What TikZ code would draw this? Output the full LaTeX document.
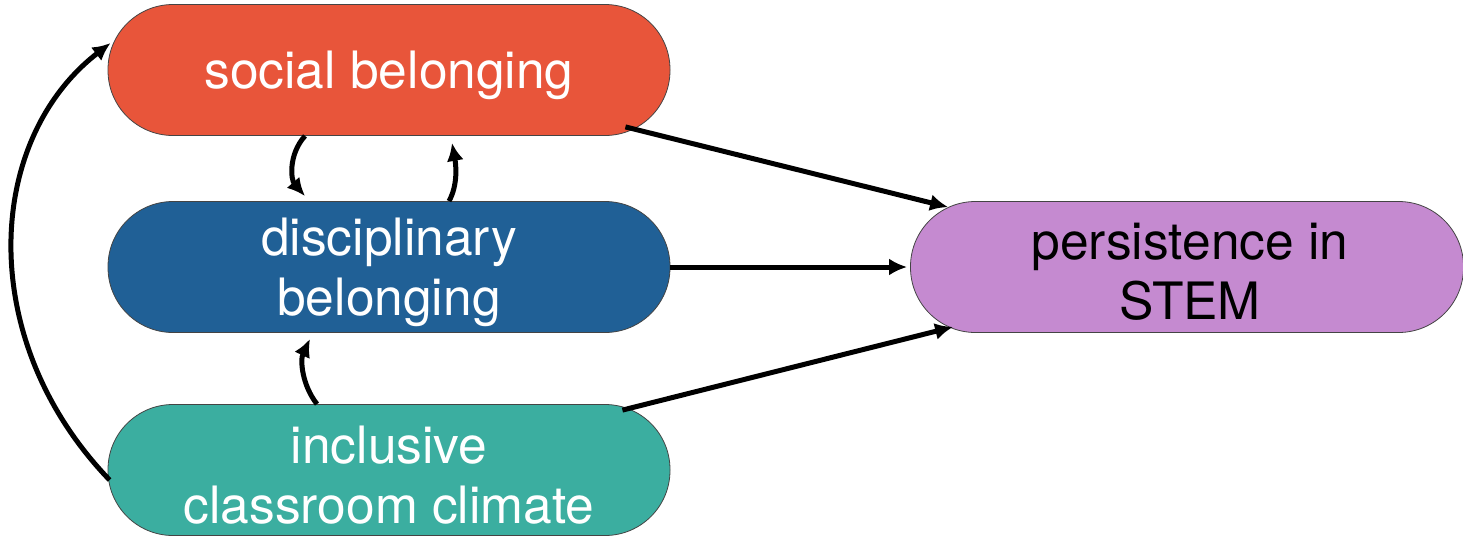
\documentclass[tikz,border=0pt]{standalone}
\usepackage{fontspec}
\setmainfont{TeX Gyre Heros}
\usetikzlibrary{arrows.meta}
\definecolor{cred}{HTML}{E8553A}
\definecolor{cblue}{HTML}{206096}
\definecolor{cteal}{HTML}{3BAEA0}
\definecolor{cpurple}{HTML}{C58AD0}
\definecolor{cborder}{HTML}{444444}
\begin{document}
\begin{tikzpicture}[x=1pt,y=-1pt,
  pill/.style={draw=cborder, line width=0.8pt, rounded corners=65pt,
    minimum width=562pt, minimum height=131pt, inner sep=0pt},
  txt/.style={align=center, font=\fontsize{51.5}{60}\selectfont, text=white, inner sep=0pt},
  conn/.style={line width=5pt, -{Latex[length=18pt,width=17pt]}}]
\useasboundingbox (0,0) rectangle (1463,536);
\node[pill, fill=cred] (soc) at (389,70) {};
\node[pill, fill=cblue] (dis) at (389,267) {};
\node[pill, fill=cteal] (inc) at (389,470) {};
\node[pill, fill=cpurple, minimum width=553pt] (per) at (1187,267) {};
\node[txt] (socT) at (389,75) {social belonging};
\node[txt] (disT) at (389,272) {disciplinary\\belonging};
\node[txt] (incT) at (389,475) {inclusive\\classroom climate};
\node[txt, text=black] (perT) at (1190,272) {persistence in\\STEM};
% to persistence
\draw[conn] ([shift={(-45,-9)}]soc.south east) -- ([shift={(38,6)}]per.north west);
\draw[conn] (dis.east) -- ([xshift=-3]per.west);
\draw[conn] ([shift={(-48,6)}]inc.north east) -- ([shift={(43,-6)}]per.south west);
% left loop
\draw[conn] ([shift={(2,10)}]inc.west) .. controls (-25,340) and (-15,140) .. ([shift={(3,-27)}]soc.west);
% small arrows
\draw[conn] ([xshift=-84]soc.south) .. controls (288,155) and (291,180) .. ([shift={(-84,-5)}]dis.north);
\draw[conn] ([xshift=60]dis.north) .. controls (458,185) and (456,165) .. ([shift={(63,7)}]soc.south);
\draw[conn] ([xshift=-72]inc.north) .. controls (302,385) and (300,360) .. ([shift={(-79,6)}]dis.south);
\end{tikzpicture}
\end{document}
